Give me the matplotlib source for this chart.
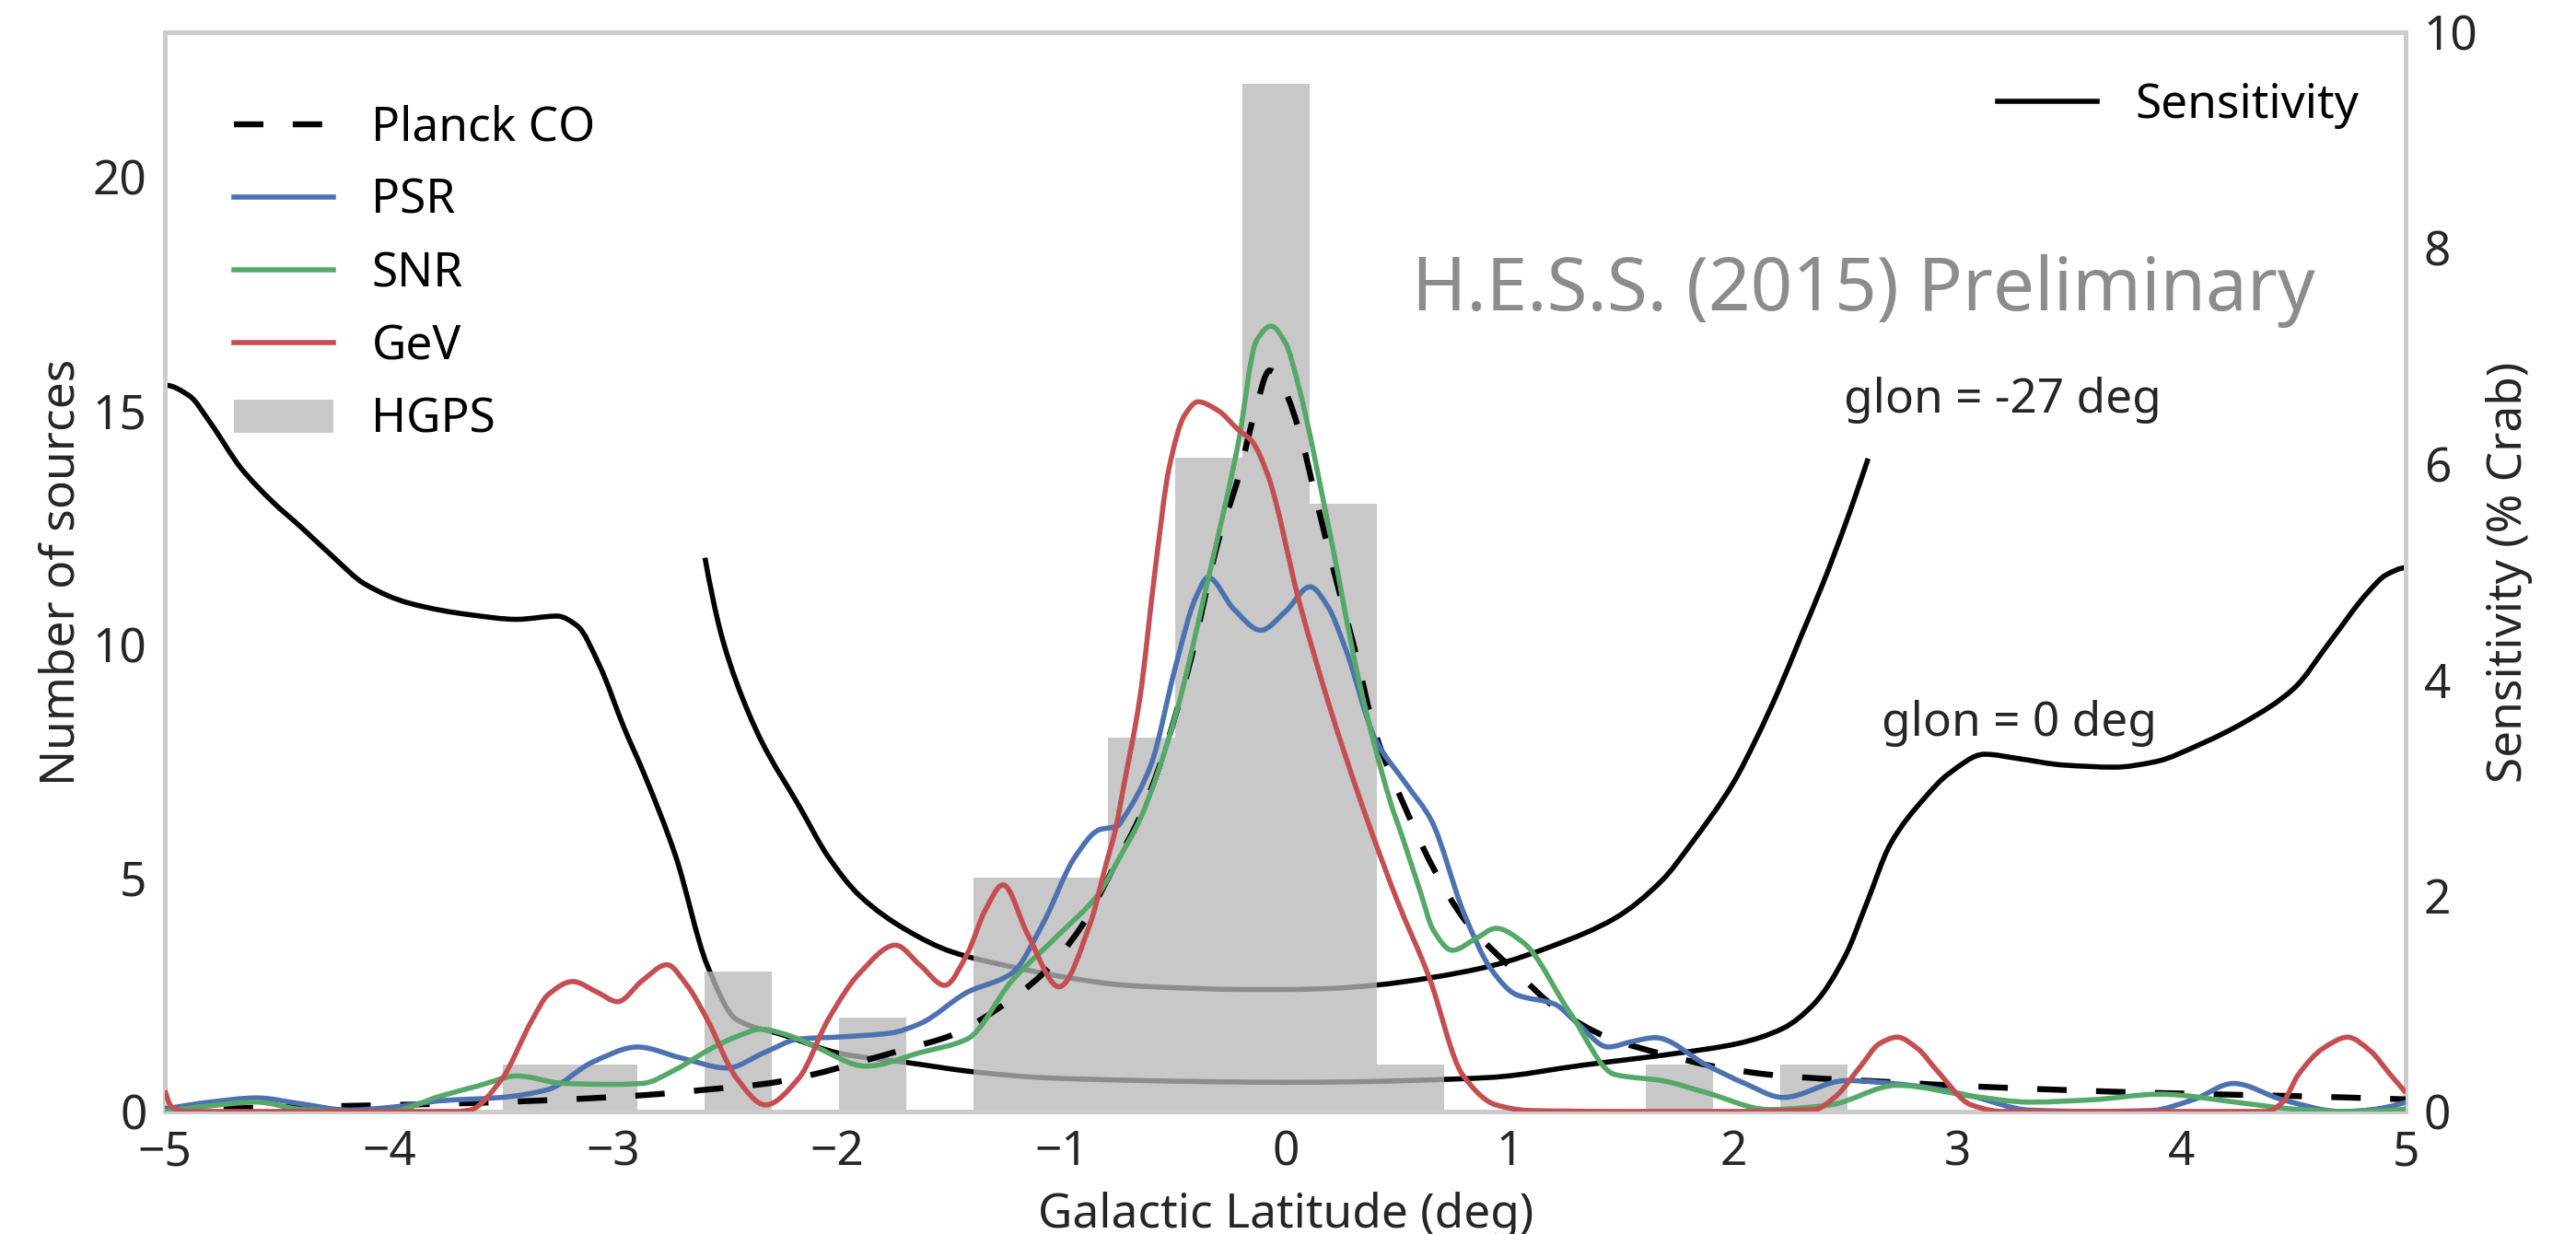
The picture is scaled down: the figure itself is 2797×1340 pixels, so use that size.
import matplotlib
matplotlib.use("Agg")
import matplotlib.pyplot as plt
from matplotlib.path import Path
from matplotlib.patches import PathPatch, Rectangle
from matplotlib.lines import Line2D
import numpy as np

plt.rcParams['font.family'] = ['Noto Sans', 'DejaVu Sans']

# ---------------- data ----------------
hgps_bin_edges = [-3.49, -3.19, -2.89, -2.59, -2.29, -1.99, -1.69, -1.39, -1.09, -0.79,
                  -0.49, -0.19, 0.11, 0.41, 0.71, 1.01, 1.31, 1.61, 1.91, 2.21, 2.51]
hgps_counts = [1, 1, 0, 3, 0, 2, 0, 5, 5, 8, 14, 22, 13, 1, 0, 0, 0, 1, 0, 1]

planck_lat = [-5.0, -4.6, -4.18, -3.63, -3.2, -2.86, -2.6, -2.31, -2.1, -1.9, -1.7, -1.49, -1.28,
              -1.08, -0.91, -0.76, -0.65, -0.56, -0.43, -0.3, -0.21, -0.14, -0.07, 0.0, 0.06,
              0.14, 0.22, 0.31, 0.4, 0.54, 0.65, 0.8, 0.96, 1.05, 1.2, 1.44, 1.69, 1.95, 2.22,
              2.7, 3.1, 3.86, 4.5, 5.0]
planck_n = [0.05, 0.08, 0.12, 0.18, 0.26, 0.35, 0.46, 0.6, 0.8, 1.06, 1.33, 1.63, 2.21, 2.96,
            3.96, 5.28, 6.3, 7.42, 9.53, 12.2, 13.57, 14.9, 15.86, 15.4, 14.59, 13.05, 11.5,
            9.88, 8.12, 6.44, 5.3, 4.1, 3.29, 2.89, 2.24, 1.58, 1.22, 0.93, 0.76, 0.63, 0.53,
            0.40, 0.33, 0.26]

psr_lat = [-5.0, -4.8, -4.59, -4.4, -4.18, -3.97, -3.77, -3.5, -3.29, -3.09, -2.89, -2.7, -2.49,
           -2.33, -2.17, -1.97, -1.76, -1.63, -1.42, -1.22, -1.08, -0.94, -0.83, -0.75, -0.72,
           -0.6, -0.49, -0.4, -0.345, -0.23, -0.11, 0.0, 0.11, 0.19, 0.27, 0.4, 0.54, 0.65,
           0.8, 0.92, 1.03, 1.2, 1.3, 1.44, 1.55, 1.65, 1.88, 2.05, 2.22, 2.5, 2.84, 3.06,
           3.32, 3.6, 3.86, 4.05, 4.23, 4.45, 4.71, 5.0]
psr_n = [0.05, 0.2, 0.29, 0.17, 0.03, 0.1, 0.23, 0.30, 0.47, 1.06, 1.38, 1.15, 0.93, 1.25,
         1.55, 1.6, 1.68, 1.88, 2.55, 2.96, 4.04, 5.44, 6.03, 6.11, 6.3, 7.42, 9.53, 11.0,
         11.43, 10.75, 10.3, 10.7, 11.23, 10.8, 9.88, 7.98, 7.0, 6.24, 4.2, 3.03, 2.5, 2.30,
         1.9, 1.38, 1.5, 1.58, 0.99, 0.6, 0.30, 0.66, 0.53, 0.33, 0.03, 0.0, 0.02, 0.25, 0.6,
         0.25, 0.0, 0.2]

snr_lat = [-5.0, -4.8, -4.59, -4.4, -4.2, -4.0, -3.77, -3.6, -3.43, -3.22, -3.0, -2.87, -2.72,
           -2.58, -2.45, -2.34, -2.2, -2.1, -1.87, -1.63, -1.42, -1.22, -1.01, -0.84, -0.72,
           -0.65, -0.49, -0.35, -0.21, -0.13, -0.064, 0.0, 0.06, 0.2, 0.33, 0.47, 0.52, 0.6,
           0.66, 0.745, 0.85, 0.94, 1.06, 1.27, 1.47, 1.68, 1.88, 2.16, 2.43, 2.73, 3.06,
           3.32, 3.6, 3.9, 4.27, 4.5, 4.74, 5.0]
snr_n = [0.0, 0.12, 0.20, 0.05, 0.0, 0.0, 0.33, 0.55, 0.76, 0.60, 0.58, 0.6, 0.9, 1.30, 1.6,
         1.76, 1.6, 1.39, 0.97, 1.26, 1.55, 2.8, 3.79, 4.62, 5.61, 6.24, 8.48, 11.29, 14.31,
         16.49, 16.81, 16.45, 15.5, 12.34, 9.18, 6.6, 5.9, 4.73, 3.88, 3.45, 3.7, 3.92, 3.62,
         2.11, 0.79, 0.66, 0.4, 0.04, 0.14, 0.56, 0.33, 0.2, 0.25, 0.37, 0.18, 0.05, 0.0, 0.05]

gev_lat = [-5.0, -4.97, -4.9, -4.5, -4.0, -3.7, -3.64, -3.5, -3.36, -3.29, -3.18, -3.07, -2.98,
           -2.87, -2.76, -2.67, -2.58, -2.45, -2.32, -2.17, -2.04, -1.9, -1.74, -1.63, -1.52,
           -1.42, -1.34, -1.26, -1.15, -1.01, -0.87, -0.8, -0.76, -0.72, -0.65, -0.58, -0.52,
           -0.45, -0.39, -0.3, -0.21, -0.15, -0.077, 0.06, 0.2, 0.33, 0.38, 0.5, 0.64, 0.79,
           0.94, 1.09, 1.5, 2.0, 2.36, 2.45, 2.57, 2.65, 2.73, 2.82, 2.91, 3.06, 3.2, 3.5, 4.0,
           4.38, 4.45, 4.52, 4.63, 4.74, 4.84, 4.93, 5.0]
gev_n = [0.45, 0.1, 0.0, 0.0, 0.0, 0.0, 0.03, 0.67, 1.97, 2.5, 2.78, 2.55, 2.35, 2.80, 3.14,
         2.7, 1.97, 0.72, 0.14, 0.72, 1.97, 2.96, 3.56, 3.13, 2.70, 3.37, 4.3, 4.85, 3.79,
         2.67, 4.04, 5.3, 6.0, 7.0, 8.83, 11.64, 13.75, 14.9, 15.19, 15.0, 14.59, 14.35, 13.6,
         10.94, 8.62, 6.72, 6.04, 4.5, 2.89, 0.79, 0.14, 0.02, 0.0, 0.0, 0.04, 0.3, 0.99,
         1.45, 1.59, 1.35, 0.86, 0.14, 0.0, 0.0, 0.0, 0.0, 0.2, 0.79, 1.35, 1.59, 1.3, 0.79, 0.4]

sens0_lat = [-5.0, -4.89, -4.8, -4.66, -4.52, -4.39, -4.25, -4.11, -3.91, -3.63, -3.43, -3.25,
             -3.16, -3.06, -2.95, -2.86, -2.72, -2.58, -2.45, -2.24, -1.97, -1.7, -1.39, -1.08,
             -0.72, -0.3, 0.0, 0.3, 0.6, 0.92, 1.33, 1.75, 2.02, 2.22, 2.36, 2.5, 2.59, 2.7,
             2.85, 2.96, 3.12, 3.27, 3.47, 3.7, 3.88, 4.09, 4.29, 4.5, 4.66, 4.83, 4.91, 5.0]
sens0 = [6.73, 6.63, 6.39, 5.96, 5.65, 5.41, 5.14, 4.89, 4.71, 4.60, 4.56, 4.59, 4.50, 4.13,
         3.55, 3.12, 2.36, 1.355, 0.853, 0.708, 0.53, 0.457, 0.367, 0.313, 0.29, 0.275, 0.27,
         0.275, 0.29, 0.316, 0.43, 0.54, 0.63, 0.77, 1.0, 1.45, 1.91, 2.48, 2.90, 3.13, 3.31,
         3.27, 3.21, 3.19, 3.24, 3.41, 3.62, 3.92, 4.35, 4.81, 4.97, 5.04]

sens27_lat = [-2.59, -2.52, -2.45, -2.34, -2.17, -2.04, -1.9, -1.69, -1.49, -1.22, -0.94, -0.72,
              -0.4, -0.2, 0.0, 0.2, 0.4, 0.65, 0.92, 1.2, 1.47, 1.68, 1.81, 2.0, 2.1, 2.2, 2.3,
              2.4, 2.5, 2.6]
sens27 = [5.13, 4.44, 3.98, 3.44, 2.83, 2.36, 2.0, 1.68, 1.48, 1.34, 1.23, 1.17, 1.14, 1.13,
          1.13, 1.14, 1.17, 1.24, 1.35, 1.54, 1.79, 2.14, 2.48, 3.05, 3.45, 3.9, 4.4, 4.9,
          5.45, 6.05]

xticks = [-5, -4, -3, -2, -1, 0, 1, 2, 3, 4, 5]
yticks_left = [0, 5, 10, 15, 20]
yticks_right = [0, 2, 4, 6, 8, 10]


# ---------------- smooth rendering of the read values ----------------
def smooth_path(xs, ys):
    """Monotone cubic (Fritsch-Carlson) through the points, as Bezier segments."""
    x = np.asarray(xs, float)
    y = np.asarray(ys, float)
    h = np.diff(x)
    dl = np.diff(y) / h
    n = len(x)
    d = np.zeros(n)
    for k in range(1, n - 1):
        if dl[k - 1] * dl[k] > 0:
            w1 = 2 * h[k] + h[k - 1]
            w2 = h[k] + 2 * h[k - 1]
            d[k] = (w1 + w2) / (w1 / dl[k - 1] + w2 / dl[k])

    def endpoint(h0, h1, m0, m1):
        dd = ((2 * h0 + h1) * m0 - h0 * m1) / (h0 + h1)
        if np.sign(dd) != np.sign(m0):
            dd = 0.0
        elif np.sign(m0) != np.sign(m1) and abs(dd) > abs(3 * m0):
            dd = 3 * m0
        return dd

    d[0] = endpoint(h[0], h[1], dl[0], dl[1])
    d[-1] = endpoint(h[-1], h[-2], dl[-1], dl[-2])
    verts = [(x[0], y[0])]
    codes = [Path.MOVETO]
    for k in range(n - 1):
        verts += [(x[k] + h[k] / 3, y[k] + d[k] * h[k] / 3),
                  (x[k + 1] - h[k] / 3, y[k + 1] - d[k + 1] * h[k] / 3),
                  (x[k + 1], y[k + 1])]
        codes += [Path.CURVE4] * 3
    return Path(verts, codes)


def draw_curve(ax, xs, ys, color, lw, ls='-', zorder=3):
    p = PathPatch(smooth_path(xs, ys), facecolor='none', edgecolor=color, lw=lw,
                  linestyle=ls, joinstyle='round', capstyle='butt', zorder=zorder)
    ax.add_patch(p)
    return Line2D([], [], color=color, lw=lw, linestyle=ls)


# ---------------- figure ----------------
TXT = '#262626'
FS = 18.5
fig = plt.figure(figsize=(13.985, 6.70), dpi=200)
ax1 = fig.add_axes([0.064, 0.0993, 0.870, 0.8746])
ax2 = ax1.twinx()
ax1.set_zorder(ax2.get_zorder() + 1)
ax1.patch.set_visible(False)

# sensitivity curves (right axis, drawn behind the histogram)
h_sens = draw_curve(ax2, sens0_lat, sens0, 'black', 2.0)
draw_curve(ax2, sens27_lat, sens27, 'black', 2.0)
ax2.set_ylim(0, 10)
ax2.set_yticks(yticks_right)
ax2.text(2.49, 6.59, 'glon = -27 deg', fontsize=FS, color=TXT, ha='left', va='center')
ax2.text(2.66, 3.60, 'glon = 0 deg', fontsize=FS, color=TXT, ha='left', va='center')
ax2.set_ylabel('Sensitivity (% Crab)', fontsize=FS, color=TXT, labelpad=3)

# histogram + distributions (left axis)
edges = np.array(hgps_bin_edges)
bars = ax1.bar(edges[:-1], hgps_counts, width=np.diff(edges), align='edge',
               color=(0.72, 0.72, 0.72), alpha=0.77, linewidth=0, zorder=1)
h_planck = draw_curve(ax1, planck_lat, planck_n, 'black', 2.3, ls=(0, (5.0, 5.0)))
h_psr = draw_curve(ax1, psr_lat, psr_n, '#4C72B0', 2.0)
h_snr = draw_curve(ax1, snr_lat, snr_n, '#55A868', 2.0)
h_gev = draw_curve(ax1, gev_lat, gev_n, '#C44E52', 2.0)
ax1.set_xlim(-5, 5)
ax1.set_ylim(0, 23.1)
ax1.set_xticks(xticks)
ax1.set_yticks(yticks_left)
ax1.set_xlabel('Galactic Latitude (deg)', fontsize=FS, color=TXT, labelpad=6)
ax1.set_ylabel('Number of sources', fontsize=FS, color=TXT, labelpad=3)

ax1.text(0.758, 0.76, 'H.E.S.S. (2015) Preliminary', transform=ax1.transAxes,
         fontsize=28.8, color='#8c8c8c', ha='center', va='center')

for ax in (ax1, ax2):
    for s in ax.spines.values():
        s.set_color('#cccccc')
        s.set_linewidth(1.8)
    ax.tick_params(length=0, labelsize=FS, labelcolor=TXT, pad=7)
    ax.grid(False)

h_hgps = Rectangle((0, 0), 1, 1, facecolor=(0.72, 0.72, 0.72), alpha=0.77, linewidth=0)
ax1.legend([h_planck, h_psr, h_snr, h_gev, h_hgps], ['Planck CO', 'PSR', 'SNR', 'GeV', 'HGPS'],
           loc='upper left', bbox_to_anchor=(0.031, 0.933), frameon=False, fontsize=FS,
           borderpad=0, borderaxespad=0, handlelength=2.1, labelspacing=0.55)
ax2.legend([h_sens], ['Sensitivity'], loc='upper right', bbox_to_anchor=(0.979, 0.954),
           frameon=False, fontsize=FS, borderpad=0, borderaxespad=0, handlelength=2.1)

fig.savefig('out.png', dpi=200)
